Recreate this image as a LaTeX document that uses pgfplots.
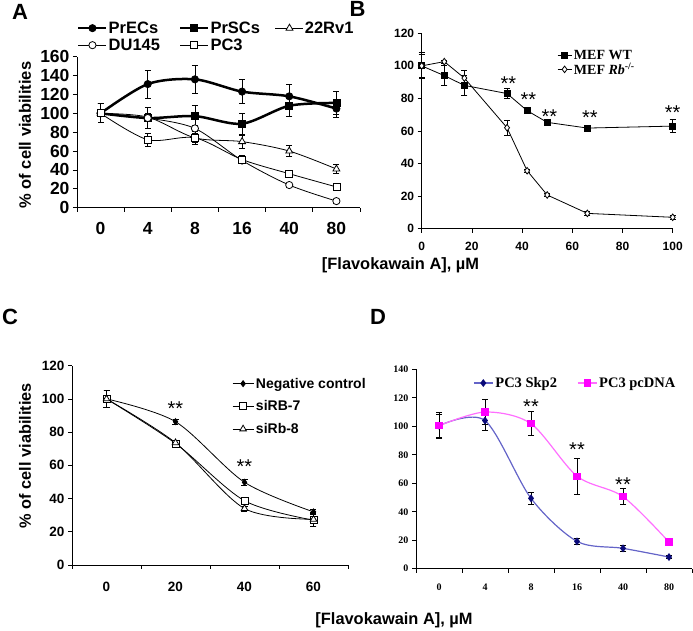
\documentclass[border=0pt]{standalone}
\usepackage{pgfplots}
\pgfplotsset{compat=1.18}
\usepackage{fontspec}
\setmainfont{Liberation Sans}
\newfontfamily\tnr{Liberation Serif}
\definecolor{skpline}{RGB}{100,100,200}
\definecolor{skpmark}{RGB}{10,10,120}
\definecolor{pcline}{RGB}{255,110,255}
\definecolor{pcmark}{RGB}{255,0,255}
\newcommand{\fs}[1]{\fontsize{#1}{#1}\selectfont}
\pgfplotsset{
  base/.style={
    scale only axis, anchor=south west,
    axis x line=bottom, axis y line=left,
    axis line style={-, line width=0.8pt},
    tick align=outside, major tick length=4pt, minor tick length=4pt,
    tick style={black, line width=0.8pt},
    /pgf/number format/assume math mode=true,
    clip=false,
    legend cell align=left,
  },
  cat/.style={
    major x tick style={draw=none},
    minor x tick style={black, line width=0.8pt},
  },
  eb/.style={error bars/.cd, y dir=both, y explicit,
    error bar style={line width=0.8pt, black, solid},
    error mark options={rotate=90, mark size=3pt, line width=0.8pt, black, solid}},
}
\begin{document}
\begin{tikzpicture}[x=1pt,y=1pt]
\useasboundingbox (0,0) rectangle (693,631);
% ---------------- Panel A ----------------
\begin{axis}[base, cat, at={(77pt,423.3pt)}, width=283pt, height=151pt,
  xmin=-0.5, xmax=5.5, ymin=0, ymax=160,
  xtick={0,...,5}, xticklabels={0,4,8,16,40,80},
  minor xtick={-0.5,0.5,...,5.5},
  ytick={0,20,...,160},
  tick label style={font=\fs{17.5}\bfseries},
  xticklabel style={yshift=-7pt},
  ylabel={\% of cell viabilities},
  ylabel style={font=\fs{16.5}\bfseries, at={(axis description cs:-0.184,0.481)}, anchor=center},
  legend columns=3,
  legend style={at={(axis description cs:0,1.24)}, anchor=north west, draw=none, fill=none,
    font=\fs{16.5}\bfseries, inner sep=0pt, row sep=2pt, nodes={inner sep=1pt},
    /tikz/column 2/.style={column sep=18pt},
    /tikz/column 4/.style={column sep=14pt}},
  legend image code/.code={\draw[mark repeat=2,mark phase=2,#1] plot coordinates {(0pt,0pt) (14pt,0pt) (28pt,0pt)};},
]
\addplot[black, line width=2.5pt, smooth, mark=*, mark size=3.6pt, mark options={line width=0.8pt}, eb]
 coordinates {(0,100) +- (0,10) (1,131) +- (0,15) (2,136) +- (0,15) (3,123) +- (0,13) (4,118) +- (0,13) (5,105) +- (0,9)};
\addlegendentry{PrECs}
\addplot[black, line width=2.5pt, smooth, mark=square*, mark size=3.5pt, mark options={line width=0.8pt}, eb]
 coordinates {(0,100) +- (0,10) (1,95) +- (0,11) (2,97) +- (0,11) (3,89) +- (0,11) (4,108) +- (0,11) (5,111) +- (0,12)};
\addlegendentry{PrSCs}
\addplot[black, line width=0.8pt, smooth, mark=triangle*, mark size=4pt, mark options={fill=white}, eb]
 coordinates {(0,100) +- (0,10) (1,96) +- (0,4) (2,74) +- (0,5) (3,70) +- (0,7) (4,60) +- (0,6) (5,41) +- (0,5)};
\addlegendentry{22Rv1}
\addplot[black, line width=0.8pt, smooth, mark=*, mark size=3.6pt, mark options={fill=white}, eb]
 coordinates {(0,100) +- (0,10) (1,95) +- (0,3) (2,84) +- (0,3) (3,50) +- (0,3) (4,24) +- (0,2) (5,7) +- (0,2)};
\addlegendentry{DU145}
\addplot[black, line width=0.8pt, smooth, mark=square*, mark size=3.5pt, mark options={fill=white}, eb]
 coordinates {(0,100) +- (0,10) (1,72) +- (0,7) (2,74) +- (0,7) (3,51) +- (0,4) (4,36) +- (0,3) (5,22) +- (0,3)};
\addlegendentry{PC3}
\end{axis}
% ---------------- Panel B ----------------
\begin{axis}[base, at={(421.7pt,402.3pt)}, width=251pt, height=195.4pt,
  xmin=0, xmax=100, ymin=0, ymax=120,
  xtick={0,20,...,100}, ytick={0,20,...,120},
  tick label style={font=\fs{12}\bfseries},
  xticklabel style={yshift=-6pt},
  legend style={at={(axis description cs:0.539,0.925)}, anchor=north west, draw=none, fill=none,
    font=\fs{14}\tnr\bfseries, inner sep=0pt, row sep=-2pt},
  legend image code/.code={\draw[mark repeat=2,mark phase=2,#1] plot coordinates {(0pt,0pt) (7pt,0pt) (14pt,0pt)};},
]
\addplot[black, line width=0.8pt, mark=square*, mark size=3pt, eb]
 coordinates {(0,100) +- (0,8) (9,94) +- (0,6) (17,88) +- (0,6) (34,83) +- (0,3) (42,72.5) +- (0,1.5) (50,65.3) +- (0,1) (66,61.8) +- (0,1.5) (100,63) +- (0,4)};
\addlegendentry{MEF WT}
\addplot[black, line width=0.8pt, mark=diamond*, mark size=3.3pt, mark options={fill=white}, eb]
 coordinates {(0,100) +- (0,7) (9,102.6) +- (0,1) (17,92.5) +- (0,5) (34,62) +- (0,4.5) (42,35.6) +- (0,1) (50,20.7) +- (0,1) (66,9.4) +- (0,1) (100,7) +- (0,1)};
\addlegendentry{MEF \textit{Rb}\textsuperscript{-/-}}
\node[font=\fs{20}] at (axis cs:34.5,89) {**};
\node[font=\fs{20}] at (axis cs:42.5,79) {**};
\node[font=\fs{20}] at (axis cs:50.9,69) {**};
\node[font=\fs{20}] at (axis cs:67,68) {**};
\node[font=\fs{20}] at (axis cs:100,71) {**};
\end{axis}
% ---------------- Panel C ----------------
\begin{axis}[base, cat, at={(72pt,66pt)}, width=276pt, height=199.3pt,
  xmin=-0.5, xmax=3.5, ymin=0, ymax=120,
  xtick={0,...,3}, xticklabels={0,20,40,60},
  minor xtick={-0.5,0.5,...,3.5},
  ytick={0,20,...,120},
  tick label style={font=\fs{13.5}\bfseries},
  xticklabel style={yshift=-10pt},
  ylabel={\% of cell viabilities},
  ylabel style={font=\fs{16.3}\bfseries, at={(axis description cs:-0.170,0.549)}, anchor=center},
  legend style={at={(axis description cs:0.5797,0.950)}, anchor=north west, draw=none, fill=none,
    font=\fs{14}\bfseries, inner sep=0pt, row sep=7pt},
  legend image code/.code={\draw[mark repeat=2,mark phase=2,#1] plot coordinates {(0pt,0pt) (10.5pt,0pt) (21pt,0pt)};},
]
\addplot[black, line width=0.8pt, smooth, mark=diamond*, mark size=3pt, eb]
 coordinates {(0,100) +- (0,5) (1,86.3) +- (0,1.5) (2,49.8) +- (0,2) (3,32) +- (0,1.5)};
\addlegendentry{Negative control}
\addplot[black, line width=0.8pt, smooth, mark=square*, mark size=3.5pt, mark options={fill=white}, eb]
 coordinates {(0,100) +- (0,5) (1,73.2) +- (0,1) (2,38.7) +- (0,1) (3,27) +- (0,4)};
\addlegendentry{siRB-7}
\addplot[black, line width=0.8pt, smooth, mark=triangle*, mark size=3.8pt, mark options={fill=white}, eb]
 coordinates {(0,100) +- (0,5) (1,73.6) +- (0,1.5) (2,34) +- (0,1.5) (3,27.5) +- (0,4)};
\addlegendentry{siRb-8}
\node[font=\fs{20}] at (axis cs:1,94) {**};
\node[font=\fs{20}] at (axis cs:2,59) {**};
\end{axis}
% ---------------- Panel D ----------------
\begin{axis}[base, cat, at={(416pt,62.3pt)}, width=276pt, height=199.4pt,
  xmin=-0.5, xmax=5.5, ymin=0, ymax=140,
  xtick={0,...,5}, xticklabels={0,4,8,16,40,80},
  minor xtick={-0.5,0.5,...,5.5},
  ytick={0,20,...,140},
  tick label style={font=\fs{10}\tnr\bfseries},
  xticklabel style={yshift=-8pt},
  legend columns=2,
  legend style={at={(axis description cs:0.2065,0.931)}, anchor=west, draw=none, fill=none,
    font=\fs{14.5}\tnr\bfseries, inner sep=0pt,
    /tikz/every even column/.append style={column sep=18pt}},
  legend image code/.code={\draw[mark repeat=2,mark phase=2,#1] plot coordinates {(0pt,0pt) (9.5pt,0pt) (19pt,0pt)};},
]
\addplot[skpline, line width=1.2pt, smooth, mark=diamond*, mark size=3pt, mark options={skpmark, fill=skpmark}, eb]
 coordinates {(0,100.4) +- (0,8) (1,104) +- (0,7) (2,49.4) +- (0,4) (3,19.2) +- (0,2) (4,14.3) +- (0,2) (5,8.2) +- (0,1)};
\addlegendentry{PC3 Skp2}
\addplot[pcline, line width=1.2pt, smooth, mark=square*, mark size=3pt, mark options={pcmark, fill=pcmark}, eb]
 coordinates {(0,100.4) +- (0,9) (1,110) +- (0,9) (2,101.8) +- (0,8.5) (3,65) +- (0,12.5) (4,50.6) +- (0,5.5) (5,18.7) +- (0,2)};
\addlegendentry{PC3 pcDNA}
\node[font=\fs{20}] at (axis cs:2,113.5) {**};
\node[font=\fs{20}] at (axis cs:3,83.5) {**};
\node[font=\fs{20}] at (axis cs:4,59) {**};
\end{axis}
% ---------------- Labels ----------------
\node[font=\fs{22}\bfseries] at (20,619) {A};
\node[font=\fs{22}\bfseries] at (357.5,622) {B};
\node[font=\fs{22}\bfseries] at (10,314.5) {C};
\node[font=\fs{22}\bfseries] at (378,314.5) {D};
\node[font=\fs{16.4}\bfseries] at (400.5,366) {[Flavokawain A], µM};
\node[font=\fs{16.4}\bfseries] at (394,11) {[Flavokawain A], µM};
\end{tikzpicture}
\end{document}
